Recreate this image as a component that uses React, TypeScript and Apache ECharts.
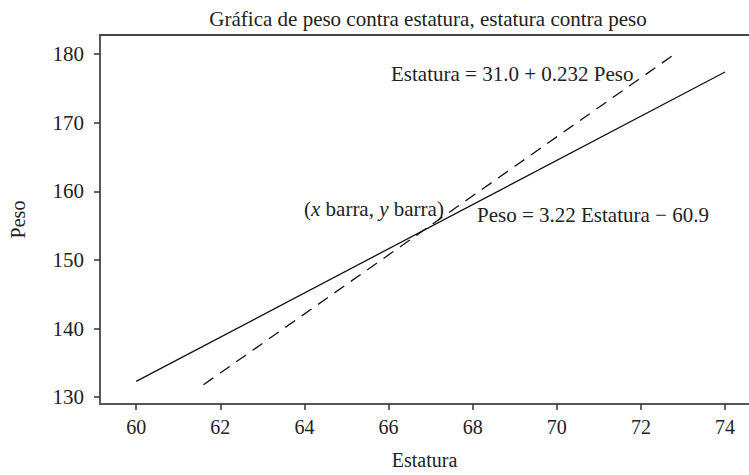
import React, { useEffect, useRef } from "react";
import * as echarts from "echarts";

const titleText = "Gráfica de peso contra estatura, estatura contra peso";
const xName = "Estatura";
const yName = "Peso";
const xTicks = [60, 62, 64, 66, 68, 70, 72, 74];
const yTicks = [130, 140, 150, 160, 170, 180];
// Regression of Peso on Estatura (solid): endpoints [Estatura, Peso]
const pesoOnEstatura = [
  [60.0, 132.3],
  [74.0, 177.4],
];
// Regression of Estatura on Peso (dashed): endpoints [Estatura, Peso]
const estaturaOnPeso = [
  [61.6, 131.8],
  [72.8, 180.0],
];
const eqEstatura = "Estatura = 31.0 + 0.232 Peso";
const eqPeso = "Peso = 3.22 Estatura − 60.9";

const FONT = "'Liberation Serif', 'DejaVu Serif', serif";

export default function App() {
  const ref = useRef<HTMLDivElement>(null);
  useEffect(() => {
    if (!ref.current) return;
    const chart = echarts.init(ref.current, undefined, { renderer: "svg" });
    const txt = { fontFamily: FONT, fontSize: 20, color: "#222" };
    chart.setOption({
      animation: false,
      backgroundColor: "#fff",
      title: {
        text: titleText,
        left: 423,
        textAlign: "center",
        top: 3,
        textStyle: { ...txt, fontWeight: "normal", fontSize: 21 },
      },
      grid: { left: 97, right: 0, top: 35, bottom: 66 },
      xAxis: [
        {
          type: "value",
          min: 59.14,
          max: 74.57,
          name: xName,
          nameLocation: "middle",
          nameGap: 46,
          nameTextStyle: txt,
          splitLine: { show: false },
          axisLine: { show: true, lineStyle: { color: "#555", width: 2 } },
          axisTick: {
            show: true,
            length: 6,
            customValues: xTicks,
            lineStyle: { color: "#333", width: 1.5 },
          },
          axisLabel: { ...txt, margin: 13, customValues: xTicks },
        },
        {
          type: "value",
          position: "top",
          min: 59.14,
          max: 74.57,
          splitLine: { show: false },
          axisLine: { show: true, lineStyle: { color: "#444", width: 2 } },
          axisTick: { show: false },
          axisLabel: { show: false },
        },
      ],
      yAxis: {
        type: "value",
        min: 129,
        max: 182.8,
        name: yName,
        nameLocation: "middle",
        nameGap: 72,
        nameTextStyle: txt,
        splitLine: { show: false },
        axisLine: { show: true, lineStyle: { color: "#222", width: 1.5 } },
        axisTick: {
          show: true,
          length: 6,
          customValues: yTicks,
          lineStyle: { color: "#333", width: 1.5 },
        },
        axisLabel: { ...txt, fontSize: 21, margin: 16, customValues: yTicks },
      },
      series: [
        {
          type: "line",
          data: pesoOnEstatura,
          showSymbol: false,
          lineStyle: { color: "#111", width: 1.3 },
        },
        {
          type: "line",
          data: estaturaOnPeso,
          showSymbol: false,
          lineStyle: { color: "#111", width: 1.3, type: [12, 8] },
        },
      ],
      graphic: [
        {
          type: "text",
          left: 391,
          top: 63,
          style: { text: eqEstatura, font: `21px ${FONT}`, fill: "#222" },
        },
        {
          type: "text",
          left: 477,
          top: 204,
          style: { text: eqPeso, font: `21px ${FONT}`, fill: "#222" },
        },
        {
          type: "text",
          left: 304,
          top: 198,
          style: {
            text: "({i|x} barra, {i|y} barra)",
            font: `21px ${FONT}`,
            fill: "#222",
            rich: {
              i: { fontStyle: "italic", fontFamily: FONT, fontSize: 21, color: "#222" },
            },
          },
        },
      ],
    });
    return () => chart.dispose();
  }, []);
  return (
    <div
      ref={ref}
      style={{ position: "absolute", left: 0, top: 0, width: 749, height: 475, background: "#fff" }}
    />
  );
}
